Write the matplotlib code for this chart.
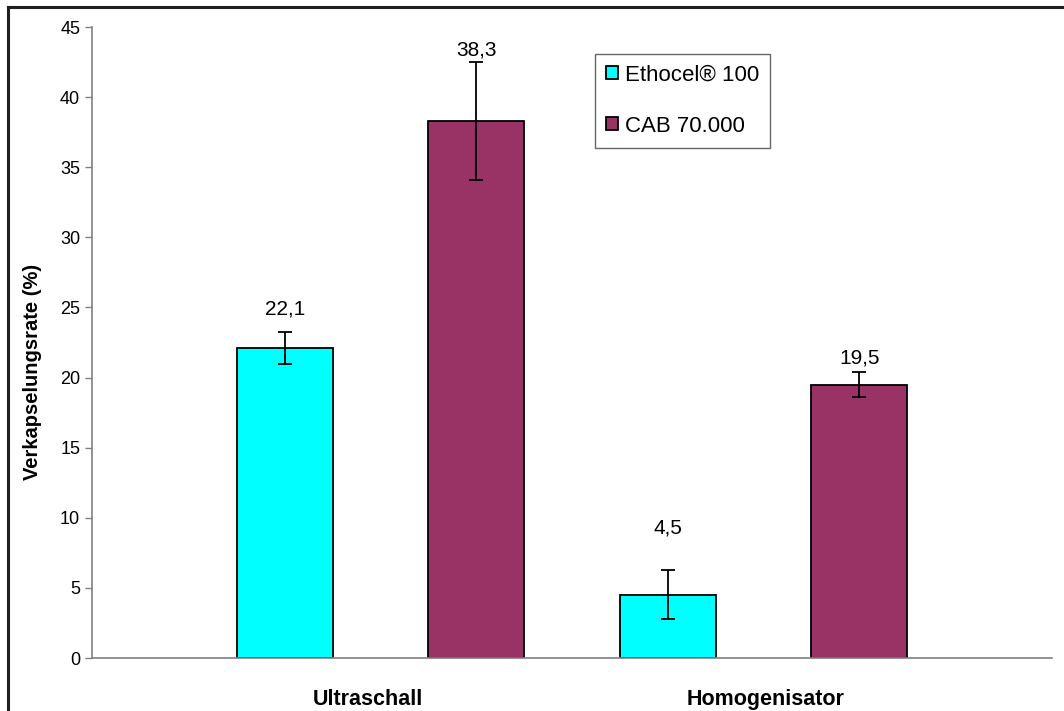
import numpy as np
import matplotlib.pyplot as plt
from matplotlib.lines import Line2D

plt.rcParams['font.family'] = ['Liberation Sans', 'DejaVu Sans']

# data
methods = ['Ultraschall', 'Homogenisator']
series = ['Ethocel® 100', 'CAB 70.000']
ethocel = [22.1, 4.5]
ethocel_err = [1.15, 1.75]
cab = [38.3, 19.5]
cab_err = [4.2, 0.9]

colors = ['#00FFFF', '#993366']

fig = plt.figure(figsize=(10.64, 7.11), dpi=100)
ax = fig.add_axes([0.0865, 0.0745, 0.9022, 0.8875])

x = np.arange(len(methods))
width = 0.25
offsets = [-0.25, 0.25]
values = [ethocel, cab]
errors = [ethocel_err, cab_err]
# label gaps above the error bars (points), as placed in the original
label_gap = [[10, 23.5], [1.5, 3.5]]

for i in range(2):
    ax.bar(x + offsets[i], values[i], width, color=colors[i], edgecolor='black',
           linewidth=1.3, label=series[i], zorder=2)
    ax.errorbar(x + offsets[i], values[i], yerr=errors[i], fmt='none', ecolor='black',
                elinewidth=1.3, capsize=4.8, capthick=1.3, zorder=3)
    for j in range(len(methods)):
        top = values[i][j] + errors[i][j]
        ax.annotate(f'{values[i][j]:.1f}'.replace('.', ','), (x[j] + offsets[i], top),
                    xytext=(0, label_gap[i][j]), textcoords='offset points',
                    ha='center', va='bottom', fontsize=15)

ax.set_xlim(-0.753, 1.753)
ax.set_ylim(0, 45)
ax.set_yticks(np.arange(0, 46, 5))
ax.set_xticks([-0.033, 1.004])
ax.set_xticklabels(methods, fontsize=15.5, fontweight='bold')
ax.tick_params(axis='x', length=0, pad=22)
ax.tick_params(axis='y', labelsize=13, length=5, color='#808080', width=1)
ax.set_ylabel('Verkapselungsrate (%)', fontsize=14.5, fontweight='bold')
ax.yaxis.set_label_coords(-0.052, 0.453)

for s in ['top', 'right']:
    ax.spines[s].set_visible(False)
ax.spines['left'].set_color('#808080')
ax.spines['bottom'].set_color('#808080')
ax.spines['left'].set_linewidth(1.2)
ax.spines['bottom'].set_linewidth(1.2)

leg = ax.legend(loc='upper left', bbox_to_anchor=(0.524, 0.958), fontsize=16,
                frameon=True, fancybox=False, edgecolor='#404040',
                handlelength=0.55, handleheight=0.55, handletextpad=0.3,
                labelspacing=1.35, borderpad=0.5, borderaxespad=0)
leg.get_frame().set_linewidth(1.0)

# outer chart border (top and left visible)
fig.add_artist(Line2D([8 / 1064, 8 / 1064], [0, 1 - 7 / 711], color='#202020', linewidth=2.2))
fig.add_artist(Line2D([8 / 1064, 1], [1 - 7 / 711, 1 - 7 / 711], color='#202020', linewidth=2.2))

fig.savefig('out.png', dpi=100)
